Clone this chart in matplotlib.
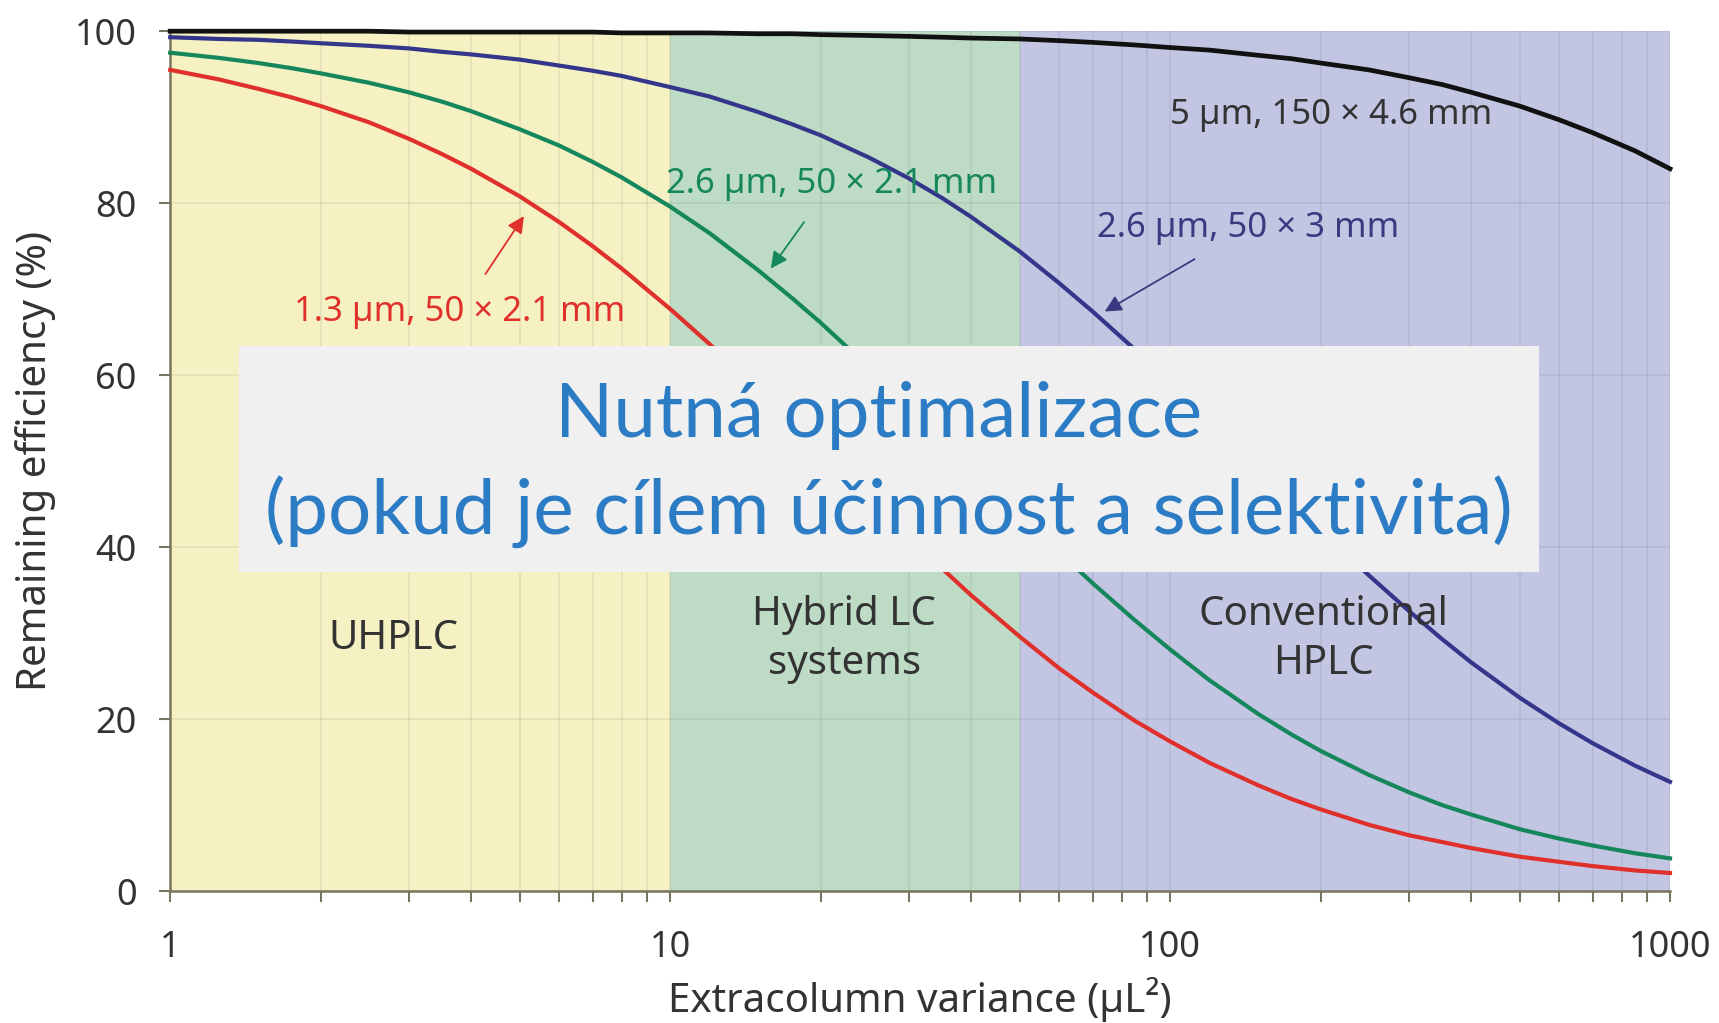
import numpy as np
import matplotlib.pyplot as plt
from matplotlib.patches import Rectangle

plt.rcParams['font.family'] = ['Noto Sans', 'DejaVu Sans']

# extracolumn variance (uL^2)
variance = [1, 1.25, 1.5, 1.75, 2, 2.5, 3, 3.5, 4, 5, 6, 7, 8,
            10, 12, 15, 17.5, 20, 25, 30, 35, 40, 50, 60, 70, 85, 100,
            120, 150, 175, 200, 250, 300, 350, 400, 500, 600, 700, 850, 1000]

# remaining efficiency (%)
eff_13_50_21 = [95.5, 94.4, 93.3, 92.3, 91.3, 89.4, 87.5, 85.7, 84.0, 80.8, 77.8, 75.0, 72.4,
                67.7, 63.6, 58.3, 54.5, 51.2, 45.7, 41.2, 37.5, 34.4, 29.6, 25.9, 23.1, 19.8, 17.4,
                14.9, 12.3, 10.7, 9.5, 7.7, 6.5, 5.7, 5.0, 4.0, 3.4, 2.9, 2.4, 2.1]
eff_26_50_21 = [97.5, 96.9, 96.3, 95.7, 95.1, 94.0, 92.9, 91.8, 90.7, 88.6, 86.7, 84.8, 83.0,
                79.6, 76.5, 72.2, 69.0, 66.1, 60.9, 56.5, 52.7, 49.4, 43.8, 39.4, 35.8, 31.5, 28.1,
                24.5, 20.6, 18.2, 16.3, 13.5, 11.5, 10.0, 8.9, 7.2, 6.1, 5.3, 4.4, 3.8]
eff_26_50_3 = [99.3, 99.1, 99.0, 98.8, 98.6, 98.3, 98.0, 97.6, 97.3, 96.7, 96.0, 95.4, 94.8,
               93.5, 92.4, 90.6, 89.2, 87.9, 85.3, 82.9, 80.6, 78.4, 74.4, 70.7, 67.4, 63.0, 59.2,
               54.7, 49.2, 45.3, 42.0, 36.7, 32.6, 29.3, 26.6, 22.5, 19.5, 17.2, 14.6, 12.7]
eff_5_150_46 = [100, 100, 100, 100, 100, 100, 99.9, 99.9, 99.9, 99.9, 99.9, 99.9, 99.8,
                99.8, 99.8, 99.7, 99.7, 99.6, 99.5, 99.4, 99.3, 99.2, 99.1, 98.9, 98.7, 98.4, 98.1,
                97.8, 97.2, 96.8, 96.3, 95.5, 94.6, 93.8, 92.9, 91.3, 89.7, 88.2, 86.1, 84.0]

regions = [(1, 10, '#f6f1c3'), (10, 50, '#bedcc5'), (50, 1000, '#c3c6e3')]
region_labels = ['UHPLC', 'Hybrid LC\nsystems', 'Conventional\nHPLC']
region_label_x = [2.8, 22.3, 203]

fig = plt.figure(figsize=(17.19, 10.23), dpi=100)
ax = fig.add_axes([0.099, 0.129, 0.8725, 0.8405])

for x0, x1, c in regions:
    ax.axvspan(x0, x1, color=c, lw=0, zorder=0)

ax.set_xscale('log')
ax.set_xlim(1, 1000)
ax.set_ylim(0, 100)

ax.grid(True, which='both', axis='x', color='#000000', alpha=0.07, lw=1.2, zorder=1)
ax.grid(True, which='major', axis='y', color='#000000', alpha=0.07, lw=1.2, zorder=1)
ax.set_axisbelow(True)

ax.plot(variance, eff_5_150_46, color='#111111', lw=3.4, zorder=3, clip_on=False)
ax.plot(variance, eff_26_50_3, color='#33368a', lw=3, zorder=3, clip_on=False)
ax.plot(variance, eff_26_50_21, color='#16875c', lw=3, zorder=3, clip_on=False)
ax.plot(variance, eff_13_50_21, color='#e0302c', lw=3, zorder=3, clip_on=False)

for lab, x in zip(region_labels, region_label_x):
    ax.text(x, 29.3, lab, ha='center', va='center', fontsize=29, color='#333333',
            linespacing=1.3, zorder=4)

ax.annotate('1.3 µm, 50 × 2.1 mm', xy=(5.1, 78.5), xytext=(3.8, 67.3), color='#e0302c',
            fontsize=25, ha='center', va='center', zorder=4,
            arrowprops=dict(arrowstyle='-|>', color='#e0302c', lw=1.3, shrinkA=16, shrinkB=0))
ax.annotate('2.6 µm, 50 × 2.1 mm', xy=(15.9, 72.4), xytext=(21, 82.2), color='#16875c',
            fontsize=25, ha='center', va='center', zorder=4,
            arrowprops=dict(arrowstyle='-|>', color='#16875c', lw=1.3, shrinkA=16, shrinkB=0))
ax.annotate('2.6 µm, 50 × 3 mm', xy=(74, 67.4), xytext=(143, 77.1), color='#3a3a80',
            fontsize=25, ha='center', va='center', zorder=4,
            arrowprops=dict(arrowstyle='-|>', color='#3a3a80', lw=1.3, shrinkA=16, shrinkB=0))
ax.text(210, 90.2, '5 µm, 150 × 4.6 mm', color='#333333', fontsize=25, ha='center', va='center', zorder=4)

ax.set_yticks([0, 20, 40, 60, 80, 100])
ax.set_xticks([1, 10, 100, 1000])
ax.set_xticklabels(['1', '10', '100', '1000'])
ax.tick_params(axis='both', labelsize=26, colors='#7a7560', labelcolor='#333333', length=8, width=1.5, direction='out')
ax.tick_params(axis='x', which='minor', length=8, width=1.5, color='#7a7560')
ax.tick_params(axis='x', pad=20)
ax.tick_params(axis='y', pad=16)
ax.set_xlabel('Extracolumn variance (µL²)', fontsize=29, color='#333333', labelpad=8)
ax.set_ylabel('Remaining efficiency (%)', fontsize=29, color='#333333', labelpad=14)

for s in ['top', 'right']:
    ax.spines[s].set_visible(False)
for s in ['left', 'bottom']:
    ax.spines[s].set_color('#7a7560')
    ax.spines[s].set_linewidth(1.8)

# overlay box
fig.patches.append(Rectangle((0.139, 0.441), 0.756, 0.221, transform=fig.transFigure,
                             facecolor='#f0f0f0', edgecolor='none', zorder=10))
fig.text(0.511, 0.594, 'Nutná optimalizace', ha='center', va='center', fontsize=55,
         color='#2b7cc4', family=['Lato', 'DejaVu Sans'], zorder=11)
fig.text(0.517, 0.4995, '(pokud je cílem účinnost a selektivita)', ha='center', va='center', fontsize=55,
         color='#2b7cc4', family=['Lato', 'DejaVu Sans'], zorder=11)

fig.savefig('out.png', dpi=100)
